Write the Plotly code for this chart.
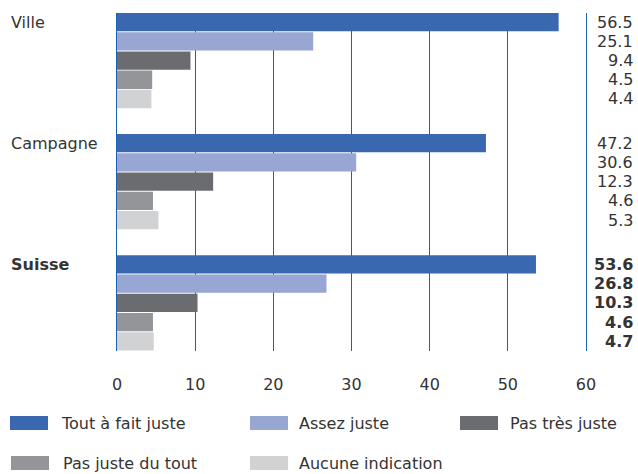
import plotly.graph_objects as go

# --- Data ---
groups = ["Ville", "Campagne", "Suisse"]
series = ["Tout à fait juste", "Assez juste", "Pas très juste",
          "Pas juste du tout", "Aucune indication"]
ville = [56.5, 25.1, 9.4, 4.5, 4.4]
campagne = [47.2, 30.6, 12.3, 4.6, 5.3]
suisse = [53.6, 26.8, 10.3, 4.6, 4.7]
values = [ville, campagne, suisse]
x_ticks = [0, 10, 20, 30, 40, 50, 60]

colors = ["#3a68b0", "#97a6d2", "#6b6c70", "#949598", "#d1d2d4"]
grid = "#1c60b6"
txt = "#333333"
font = "DejaVu Sans"

W, H = 638, 474
L, R, T, B = 117, 52, 13, 123
pw, ph = W - L - R, H - T - B

def px_x(p):
    # page pixel -> paper x
    return (p - L) / pw

def px_y(p):
    return (H - B - p) / ph

# group pitch, in bar units
step = 6.3
pos = [[g * step + i for i in range(len(series))] for g in range(len(groups))]

fig = go.Figure()

for i, name in enumerate(series):
    fig.add_trace(go.Bar(
        x=[values[g][i] for g in range(len(groups))],
        y=[pos[g][i] for g in range(len(groups))],
        orientation="h", width=0.95, name=name,
        marker=dict(color=colors[i], line=dict(width=0)),
        showlegend=False, hoverinfo="x",
    ))

annotations = []

# value labels on the right, right-aligned
for g, grp in enumerate(groups):
    for v, y in zip(values[g], pos[g]):
        label = f"{v:.1f}"
        if grp == "Suisse":
            label = f"<b>{label}</b>"
        annotations.append(dict(
            x=px_x(635), xref="paper", y=y, yref="y", text=label,
            xanchor="right", yanchor="middle", showarrow=False,
            font=dict(family=font, size=16, color=txt),
        ))

for g, grp in enumerate(groups):
    label = f"<b>{grp}</b>" if grp == "Suisse" else grp
    annotations.append(dict(
        x=px_x(9), xref="paper", y=pos[g][0], yref="y", text=label,
        xanchor="left", yanchor="middle", showarrow=False,
        font=dict(family=font, size=16, color=txt),
    ))

# legend drawn by hand (wide rectangular swatches)
legend_slots = [(10, 60, 423), (250, 298, 423), (460, 509, 423),
                (11, 62, 463), (250, 298, 463)]
shapes = []
for (sx, tx, cy), name, col in zip(legend_slots, series, colors):
    shapes.append(dict(
        type="rect", xref="paper", yref="paper",
        x0=px_x(sx), x1=px_x(sx + 38), y0=px_y(cy + 7), y1=px_y(cy - 7),
        fillcolor=col, line=dict(width=0),
    ))
    annotations.append(dict(
        x=px_x(tx - 1), xref="paper", y=px_y(cy), yref="paper", text=name,
        xanchor="left", yanchor="middle", showarrow=False,
        font=dict(family=font, size=16, color=txt),
    ))

fig.update_layout(
    width=W, height=H,
    margin=dict(l=L, r=R, t=T, b=B, pad=0),
    paper_bgcolor="white", plot_bgcolor="white",
    barmode="overlay",
    shapes=shapes, annotations=annotations,
    xaxis=dict(
        range=[0, 60], tickvals=x_ticks, showgrid=True,
        gridcolor=grid, gridwidth=1.3, zeroline=False,
        showline=False, layer="above traces", fixedrange=True,
        ticks="", ticklabelstandoff=22,
        tickfont=dict(family=font, size=16, color=txt),
    ),
    yaxis=dict(
        range=[pos[-1][-1] + 0.5, -0.47], showticklabels=False,
        showgrid=False, zeroline=False, fixedrange=True,
        showline=True, mirror=True, linecolor=grid, linewidth=1.3,
        layer="above traces",
    ),
)

# drop the default 8px body margin so the figure fills the window
fig.write_html("out.html", config={"displayModeBar": False},
               post_script="document.body.style.margin = '0';")
